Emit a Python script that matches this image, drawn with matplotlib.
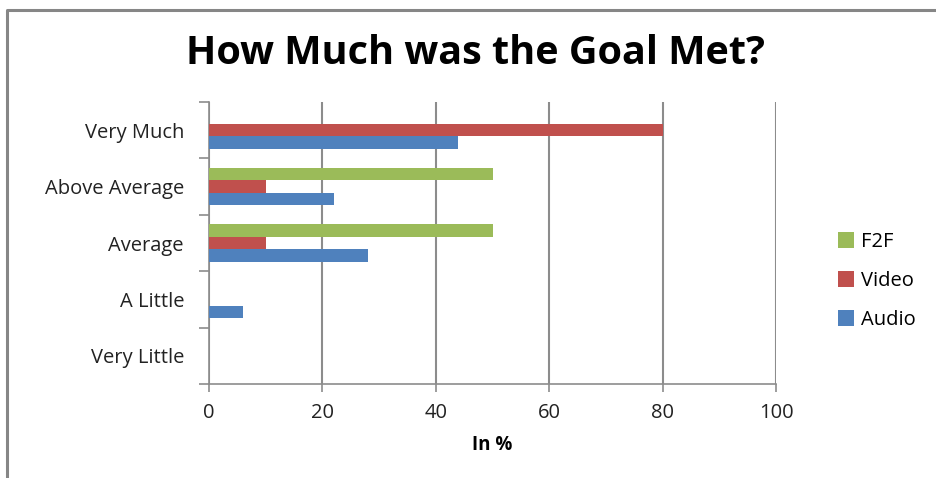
import matplotlib
matplotlib.use("Agg")
import matplotlib.pyplot as plt
from matplotlib.lines import Line2D
from matplotlib.patches import Patch
import numpy as np

categories = ["Very Much", "Above Average", "Average", "A Little", "Very Little"]
series = ["F2F", "Video", "Audio"]
f2f = [0, 50, 50, 0, 0]
video = [80, 10, 10, 0, 0]
audio = [44, 22, 28, 6, 0]
colors = ["#9BBB59", "#C0504D", "#4F81BD"]
xticks = [0, 20, 40, 60, 80, 100]

plt.rcParams["font.family"] = ["Open Sans", "DejaVu Sans"]

fig = plt.figure(figsize=(9.36, 4.78), dpi=100)
ax = fig.add_axes([209 / 936, 1 - 384 / 478, (776 - 209) / 936, (384 - 102) / 478])

pos = np.arange(len(categories))
h = 1 / 4.5
for i, (name, vals, c) in enumerate(zip(series, [f2f, video, audio], colors)):
    ax.barh(pos + (i - 1) * h, vals, height=h, color=c, linewidth=0,
            label=name, zorder=3)

ax.set_xlim(0, 100)
ax.set_ylim(len(categories) - 0.5, -0.5)
ax.set_xticks(xticks)
ax.set_xticklabels([str(t) for t in xticks], fontsize=14.5, color="#222222")
ax.set_yticks(pos)
ax.set_yticklabels(categories, fontsize=14.5, color="#222222")
ax.set_yticks(np.arange(len(categories) + 1) - 0.5, minor=True)
ax.tick_params(axis="y", which="major", length=0, pad=18)
ax.tick_params(axis="y", which="minor", length=7, color="#8C8C8C", width=1.2)
ax.tick_params(axis="x", length=6, color="#8C8C8C", width=1.2, pad=8)

ax.grid(axis="x", color="#8C8C8C", linewidth=1.5, zorder=0)
for s in ["top", "right"]:
    ax.spines[s].set_visible(False)
for s in ["left", "bottom"]:
    ax.spines[s].set_color("#8C8C8C")
    ax.spines[s].set_linewidth(1.2)

ax.set_xlabel("In %", fontsize=13.5, fontweight="bold", labelpad=8)

fig.text(475 / 936, 1 - 53 / 478, "How Much was the Goal Met?", fontsize=28.5,
         fontweight="bold", ha="center", va="center")

handles = [Patch(facecolor=c, label=n) for n, c in zip(series, colors)]
fig.legend(handles=handles, loc="center left", bbox_to_anchor=(820 / 936, 1 - 281 / 478),
           frameon=False, fontsize=14.5, handlelength=0.8, handleheight=0.8,
           handletextpad=0.35, labelspacing=0.95)

# outer chart border
fig.add_artist(Line2D([7 / 936, 7 / 936, 1.0], [0.0, 1 - 10 / 478, 1 - 10 / 478],
                      color="#868686", linewidth=2.2, transform=fig.transFigure))

fig.savefig("out.png", dpi=100)
